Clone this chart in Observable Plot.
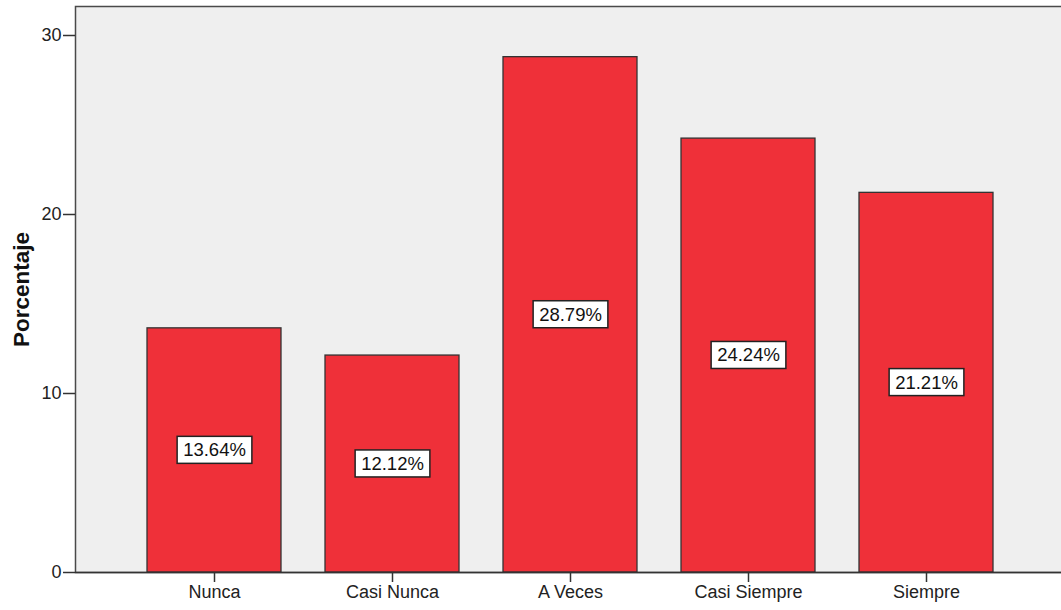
<!DOCTYPE html>
<html>
<head>
<meta charset="utf-8">
<script src="https://cdn.jsdelivr.net/npm/d3@7"></script>
<script src="https://cdn.jsdelivr.net/npm/@observablehq/plot@0.6"></script>
<style>
  html, body { margin: 0; padding: 0; background: #fff; overflow: hidden; }
  #chart svg { font-family: "Liberation Sans", Arial, sans-serif; }
</style>
</head>
<body>
<div id="chart"></div>
<script>
const categories = ["Nunca", "Casi Nunca", "A Veces", "Casi Siempre", "Siempre"];
const percentages = [13.64, 12.12, 28.79, 24.24, 21.21];
const yTicks = [0, 10, 20, 30];
const yLabel = "Porcentaje";

const data = categories.map((c, i) => ({cat: c, value: percentages[i]}));

const chart = Plot.plot({
  width: 1061,
  height: 610,
  marginLeft: 75,
  marginRight: -4,
  marginTop: 6,
  marginBottom: 38,
  style: {fontFamily: "'Liberation Sans', Arial, sans-serif", background: "#fff", overflow: "hidden"},
  x: {domain: categories, paddingInner: 0.247, paddingOuter: 0.404, label: null},
  y: {domain: [0, 31.62], label: null},
  marks: [
    Plot.frame({fill: "#efefef", stroke: "#4a4a4a", strokeWidth: 1.5}),
    Plot.axisX({tickSize: 10, tickPadding: 3, fontSize: 18, stroke: "#333", strokeWidth: 1.5, fill: "#222"}),
    Plot.axisY({ticks: yTicks, tickSize: 12, tickPadding: 2, fontSize: 18, stroke: "#333", strokeWidth: 1.5, fill: "#222", tickFormat: d3.format("d")}),
    Plot.barY(data, {x: "cat", y: "value", fill: "#ef3039", stroke: "#333", strokeWidth: 1.3}),
    Plot.ruleY([0], {stroke: "#333", strokeWidth: 1.5}),
    Plot.text(data, {x: "cat", y: d => d.value / 2, text: d => d.value.toFixed(2) + "%", fontSize: 18.5, fill: "#111", className: "vlabel"}),
    Plot.text([yLabel], {frameAnchor: "left", dx: -54, rotate: -90, textAnchor: "middle", fontSize: 22.5, fontWeight: "bold", fill: "#111"})
  ]
});

document.getElementById("chart").appendChild(chart);

// white boxes behind value labels
chart.querySelectorAll(".vlabel text").forEach(t => {
  const b = t.getBBox();
  const ns = "http://www.w3.org/2000/svg";
  const r = document.createElementNS(ns, "rect");
  const tr = t.getAttribute("transform");
  r.setAttribute("x", b.x - 6);
  r.setAttribute("y", b.y - 3);
  r.setAttribute("width", b.width + 12);
  r.setAttribute("height", b.height + 6);
  r.setAttribute("fill", "#fff");
  r.setAttribute("stroke", "#222");
  r.setAttribute("stroke-width", "1.5");
  if (tr) r.setAttribute("transform", tr);
  t.parentNode.insertBefore(r, t);
});
</script>
</body>
</html>
